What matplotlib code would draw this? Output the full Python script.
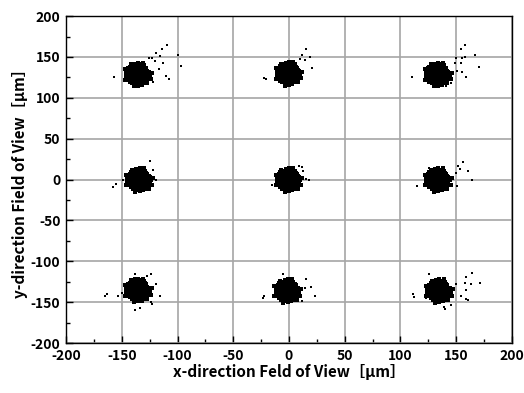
import numpy as np
import matplotlib as mpl
import matplotlib.pyplot as plt

mpl.rcParams["axes.unicode_minus"] = False
mpl.rcParams["font.family"] = ["Noto Sans CJK KR", "DejaVu Sans"]

# cluster centres (um): top row, middle row, bottom row
centers_x = [-135, 0, 134, -134, 0, 134, -135, -1, 135]
centers_y = [129, 130, 129, 0, 0, 0, -135, -136, -136]

# dense core of each spot, offsets from its centre (um)
core = [
    (-3, 13), (0, 14), (2, 12),
    (-6, 11), (-3, 10), (-1, 12), (2, 10), (5, 11),
    (-8, 9), (-5, 8), (-2, 9), (0, 8), (3, 9), (6, 8),
    (-9, 7), (-7, 6), (-4, 7), (-1, 6), (1, 7), (4, 6), (7, 7),
    (-10, 5), (-8, 4), (-5, 5), (-3, 4), (0, 5), (2, 4), (5, 5), (8, 4),
    (-11, 3), (-8, 2), (-6, 3), (-4, 2), (-1, 3), (1, 2), (3, 3), (6, 2), (9, 3),
    (-11, 1), (-9, 0), (-6, 1), (-3, 0), (-1, 1), (2, 0), (4, 1), (7, 0), (10, 1),
    (-10, -1), (-8, -2), (-5, -1), (-3, -2), (0, -1), (2, -2), (5, -1), (7, -2), (10, -1),
    (-11, -3), (-8, -4), (-6, -3), (-4, -4), (-1, -3), (1, -4), (3, -3), (6, -4), (9, -3),
    (-10, -5), (-7, -6), (-5, -5), (-2, -6), (0, -5), (3, -6), (5, -5), (8, -6),
    (-9, -7), (-7, -8), (-4, -7), (-1, -8), (2, -7), (4, -8), (7, -7),
    (-8, -9), (-5, -10), (-2, -9), (0, -10), (3, -9), (6, -10),
    (-6, -11), (-3, -12), (-1, -11), (2, -12), (5, -11),
    (-3, -13), (0, -14), (3, -13),
    (-12, 6), (11, -6), (-7, 12), (8, -11), (12, 2), (-12, -7), (4, 14), (-4, -15),
]

# scattered points around each spot, offsets from its centre (um)
stray_1 = [(26, 36), (21, 31), (35, 23), (38, 10), (12, 20), (15, 16), (19, 22), (22, 14),
           (18, 6), (25, -2), (27, -6), (13, -10), (-22, -4), (-12, -6), (9, 20), (16, 26)]
stray_2 = [(15, 30), (12, 23), (19, 20), (21, 7), (14, 16), (10, 18), (-22, -6), (-21, -7)]
stray_3 = [(24, 36), (20, 31), (33, 23), (36, 9), (24, 21), (20, 14), (21, 20), (16, 20),
           (15, 14), (17, 4), (21, 3), (25, -4), (11, -11), (-24, -4), (-12, -7), (7, -14)]
stray_4 = [(9, 23), (-24, -9), (-21, -5), (-15, 0), (12, 12), (15, 0), (-12, -8), (10, -2)]
stray_5 = [(12, 16), (9, 17), (13, 10), (-15, -7), (18, 0), (15, 1)]
stray_6 = [(22, 22), (27, 11), (18, 17), (16, 8), (30, -1), (17, -8), (-19, -8), (-8, 14), (19, 13)]
stray_7 = [(-30, -7), (-28, -5), (-18, -8), (-15, -4), (-12, -6), (-3, -24), (1, -22),
           (11, -15), (12, -17), (16, 7), (19, -7), (11, 20), (-3, 20), (8, 17)]
stray_8 = [(-21, -7), (-22, -9), (24, -7), (21, 5), (16, 14), (15, 3), (13, -12), (-4, 21), (-3, -14)]
stray_9 = [(29, 22), (24, 17), (36, 9), (28, 8), (23, 9), (24, 1), (24, -10), (26, -11),
           (19, -6), (15, 8), (-24, -4), (-23, -8), (-12, -9), (-9, 20), (4, -20), (5, -22), (10, -17)]
strays = [stray_1, stray_2, stray_3, stray_4, stray_5, stray_6, stray_7, stray_8, stray_9]

ticks = np.arange(-200, 201, 50)

fig, ax = plt.subplots(figsize=(5.24, 3.93), dpi=100)
fig.subplots_adjust(left=0.126, right=0.977, top=0.959, bottom=0.127)

core_dx = np.array([p[0] for p in core])
core_dy = np.array([p[1] for p in core])
for cx, cy, extra in zip(centers_x, centers_y, strays):
    ax.scatter(cx + core_dx, cy + core_dy, s=8, marker="s", color="black",
               linewidths=0, zorder=3)
    ex = np.array([p[0] for p in extra])
    ey = np.array([p[1] for p in extra])
    ax.scatter(cx + ex, cy + ey, s=3, marker="s", color="black",
               linewidths=0, zorder=3)

ax.set_xlim(-200, 200)
ax.set_ylim(-200, 200)
ax.set_xticks(ticks)
ax.set_yticks(ticks)
ax.set_xticks(np.arange(-175, 200, 50), minor=True)
ax.set_yticks(np.arange(-175, 200, 50), minor=True)
ax.grid(True, which="major", color="#a6a6a6", linewidth=1.2, zorder=0)
ax.set_axisbelow(True)

ax.tick_params(axis="both", which="major", direction="in", length=5, width=1,
               labelsize=10, pad=4)
ax.tick_params(axis="both", which="minor", direction="in", length=3, width=1)
for lab in ax.get_xticklabels() + ax.get_yticklabels():
    lab.set_fontweight("bold")

for sp in ax.spines.values():
    sp.set_color("black")
    sp.set_linewidth(1)

ax.set_xlabel("x-direction Feld of View［μm］", fontsize=11, fontweight="bold", labelpad=1)
ax.set_ylabel("y-direction Field of View［μm］", fontsize=11, fontweight="bold", labelpad=2)

fig.savefig("out.png", dpi=100)
